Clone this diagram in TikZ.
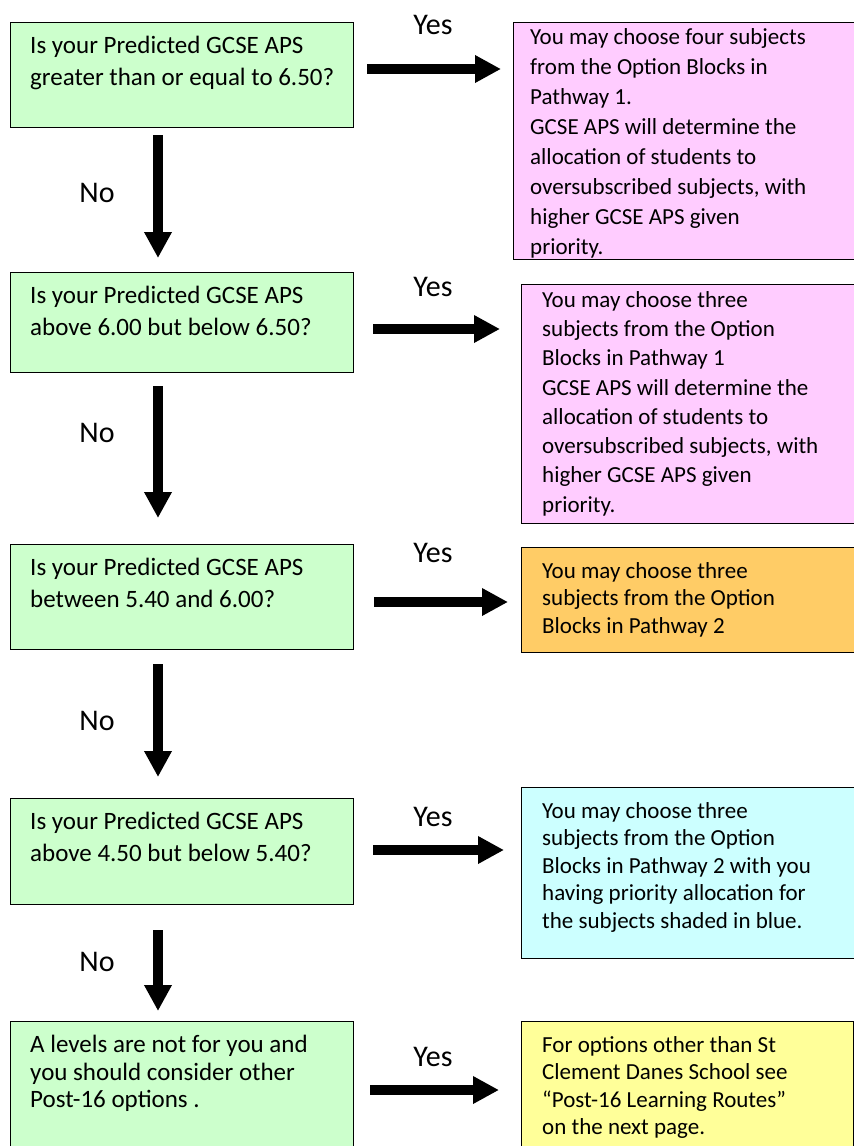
\documentclass[tikz,border=0pt]{standalone}
\usepackage{fontspec}
\setmainfont{Carlito}
\usetikzlibrary{arrows.meta,positioning}

\definecolor{askgreen}{HTML}{CCFFCC}
\definecolor{pathpink}{HTML}{FFCCFF}
\definecolor{pathorange}{HTML}{FFCC66}
\definecolor{pathcyan}{HTML}{CCFFFF}
\definecolor{pathyellow}{HTML}{FFFF99}

\tikzset{
  askbox/.style={draw=black, line width=1.4pt, fill=askgreen, anchor=north west,
    inner sep=0pt, minimum width=343pt},
  pathbox/.style={draw=black, line width=1.4pt, anchor=north west, inner sep=0pt},
  asktext/.style={inner sep=0pt, align=left, font=\fontsize{25}{32}\selectfont},
  pathtext/.style={inner sep=0pt, align=left, font=\fontsize{23}{27.6}\selectfont},
  fatarrow/.style={line width=9.5pt, -{Triangle[length=26pt,width=26pt]}},
  answer/.style={font=\fontsize{30}{30}\selectfont}
}

\begin{document}
\begin{tikzpicture}[x=1pt, y=-1pt]
    \useasboundingbox (0,0) rectangle (854,1146);

    % question boxes
    \node[askbox, minimum height=105pt] (q1) at (10,22) {};
    \node[askbox, minimum height=100pt] (q2) at (10,272) {};
    \node[askbox, minimum height=105pt] (q3) at (10,544) {};
    \node[askbox, minimum height=106pt] (q4) at (10,798) {};
    \node[askbox, minimum height=140pt] (q5) at (10,1021) {};

    % pathway boxes
    \node[pathbox, fill=pathpink, minimum width=345pt, minimum height=237pt] (a1) at (513,22) {};
    \node[pathbox, fill=pathpink, minimum width=337pt, minimum height=239pt] (a2) at (521,284) {};
    \node[pathbox, fill=pathorange, minimum width=337pt, minimum height=105pt] (a3) at (521,547) {};
    \node[pathbox, fill=pathcyan, minimum width=337pt, minimum height=171pt] (a4) at (521,787) {};
    \node[pathbox, fill=pathyellow, minimum width=332pt, minimum height=140pt] (a5) at (521,1021) {};

    \node[asktext, below right=14pt and 20pt of q1.north west] (q1t)
      {Is your Predicted GCSE APS\\greater than or equal to 6.50?};
    \node[asktext, below right=14pt and 20pt of q2.north west] (q2t)
      {Is your Predicted GCSE APS\\above 6.00 but below 6.50?};
    \node[asktext, below right=14pt and 20pt of q3.north west] (q3t)
      {Is your Predicted GCSE APS\\between 5.40 and 6.00?};
    \node[asktext, below right=14pt and 20pt of q4.north west] (q4t)
      {Is your Predicted GCSE APS\\above 4.50 but below 5.40?};
    \node[asktext, font=\fontsize{25}{27.5}\selectfont, below right=14pt and 20pt of q5.north west] (q5t)
      {A levels are not for you and\\you should consider other\\Post-16 options .};

    \node[pathtext, font=\fontsize{23}{30}\selectfont, below right=6pt and 17pt of a1.north west] (a1t)
      {You may choose four subjects\\from the Option Blocks in\\Pathway 1.\\GCSE APS will determine the\\allocation of students to\\oversubscribed subjects, with\\higher GCSE APS given\\priority.};
    \node[pathtext, font=\fontsize{23}{29.3}\selectfont, below right=7pt and 21pt of a2.north west] (a2t)
      {You may choose three\\subjects from the Option\\Blocks in Pathway 1\\GCSE APS will determine the\\allocation of students to\\oversubscribed subjects, with\\higher GCSE APS given\\priority.};
    \node[pathtext, below right=15pt and 21pt of a3.north west] (a3t)
      {You may choose three\\subjects from the Option\\Blocks in Pathway 2};
    \node[pathtext, below right=15pt and 21pt of a4.north west] (a4t)
      {You may choose three\\subjects from the Option\\Blocks in Pathway 2 with you\\having priority allocation for\\the subjects shaded in blue.};
    \node[pathtext, below right=15pt and 21pt of a5.north west] (a5t)
      {For options other than St\\Clement Danes School see\\“Post-16 Learning Routes”\\on the next page.};

    % yes arrows
    \draw[fatarrow, shorten <=13pt, shorten >=12pt] (q1.east |- 0,69) -- (a1.west |- 0,69);
    \draw[fatarrow, shorten <=19pt, shorten >=21pt] (q2.east |- 0,329) -- (a2.west |- 0,329);
    \draw[fatarrow, shorten <=20pt, shorten >=13pt] (q3.east |- 0,602) -- (a3.west |- 0,602);
    \draw[fatarrow, shorten <=19pt, shorten >=17pt] (q4.east |- 0,850) -- (a4.west |- 0,850);
    \draw[fatarrow, shorten <=16pt, shorten >=22pt] (q5.east |- 0,1090) -- (a5.west |- 0,1090);

    % no arrows
    \draw[fatarrow, shorten <=7pt, shorten >=14pt] (158,0 |- q1.south) -- (158,0 |- q2.north);
    \draw[fatarrow, shorten <=13pt, shorten >=26pt] (158,0 |- q2.south) -- (158,0 |- q3.north);
    \draw[fatarrow, shorten <=14pt, shorten >=21pt] (158,0 |- q3.south) -- (158,0 |- q4.north);
    \draw[fatarrow, shorten <=25pt, shorten >=10pt] (158,0 |- q4.south) -- (158,0 |- q5.north);

    \node[answer] (yes1) at (433,25) {Yes};
    \node[answer] (yes2) at (433,287) {Yes};
    \node[answer] (yes3) at (433,553) {Yes};
    \node[answer] (yes4) at (433,817) {Yes};
    \node[answer] (yes5) at (433,1057) {Yes};

    \node[answer] (no1) at (97,193) {No};
    \node[answer] (no2) at (97,433) {No};
    \node[answer] (no3) at (97,721) {No};
    \node[answer] (no4) at (97,962) {No};
\end{tikzpicture}
\end{document}
